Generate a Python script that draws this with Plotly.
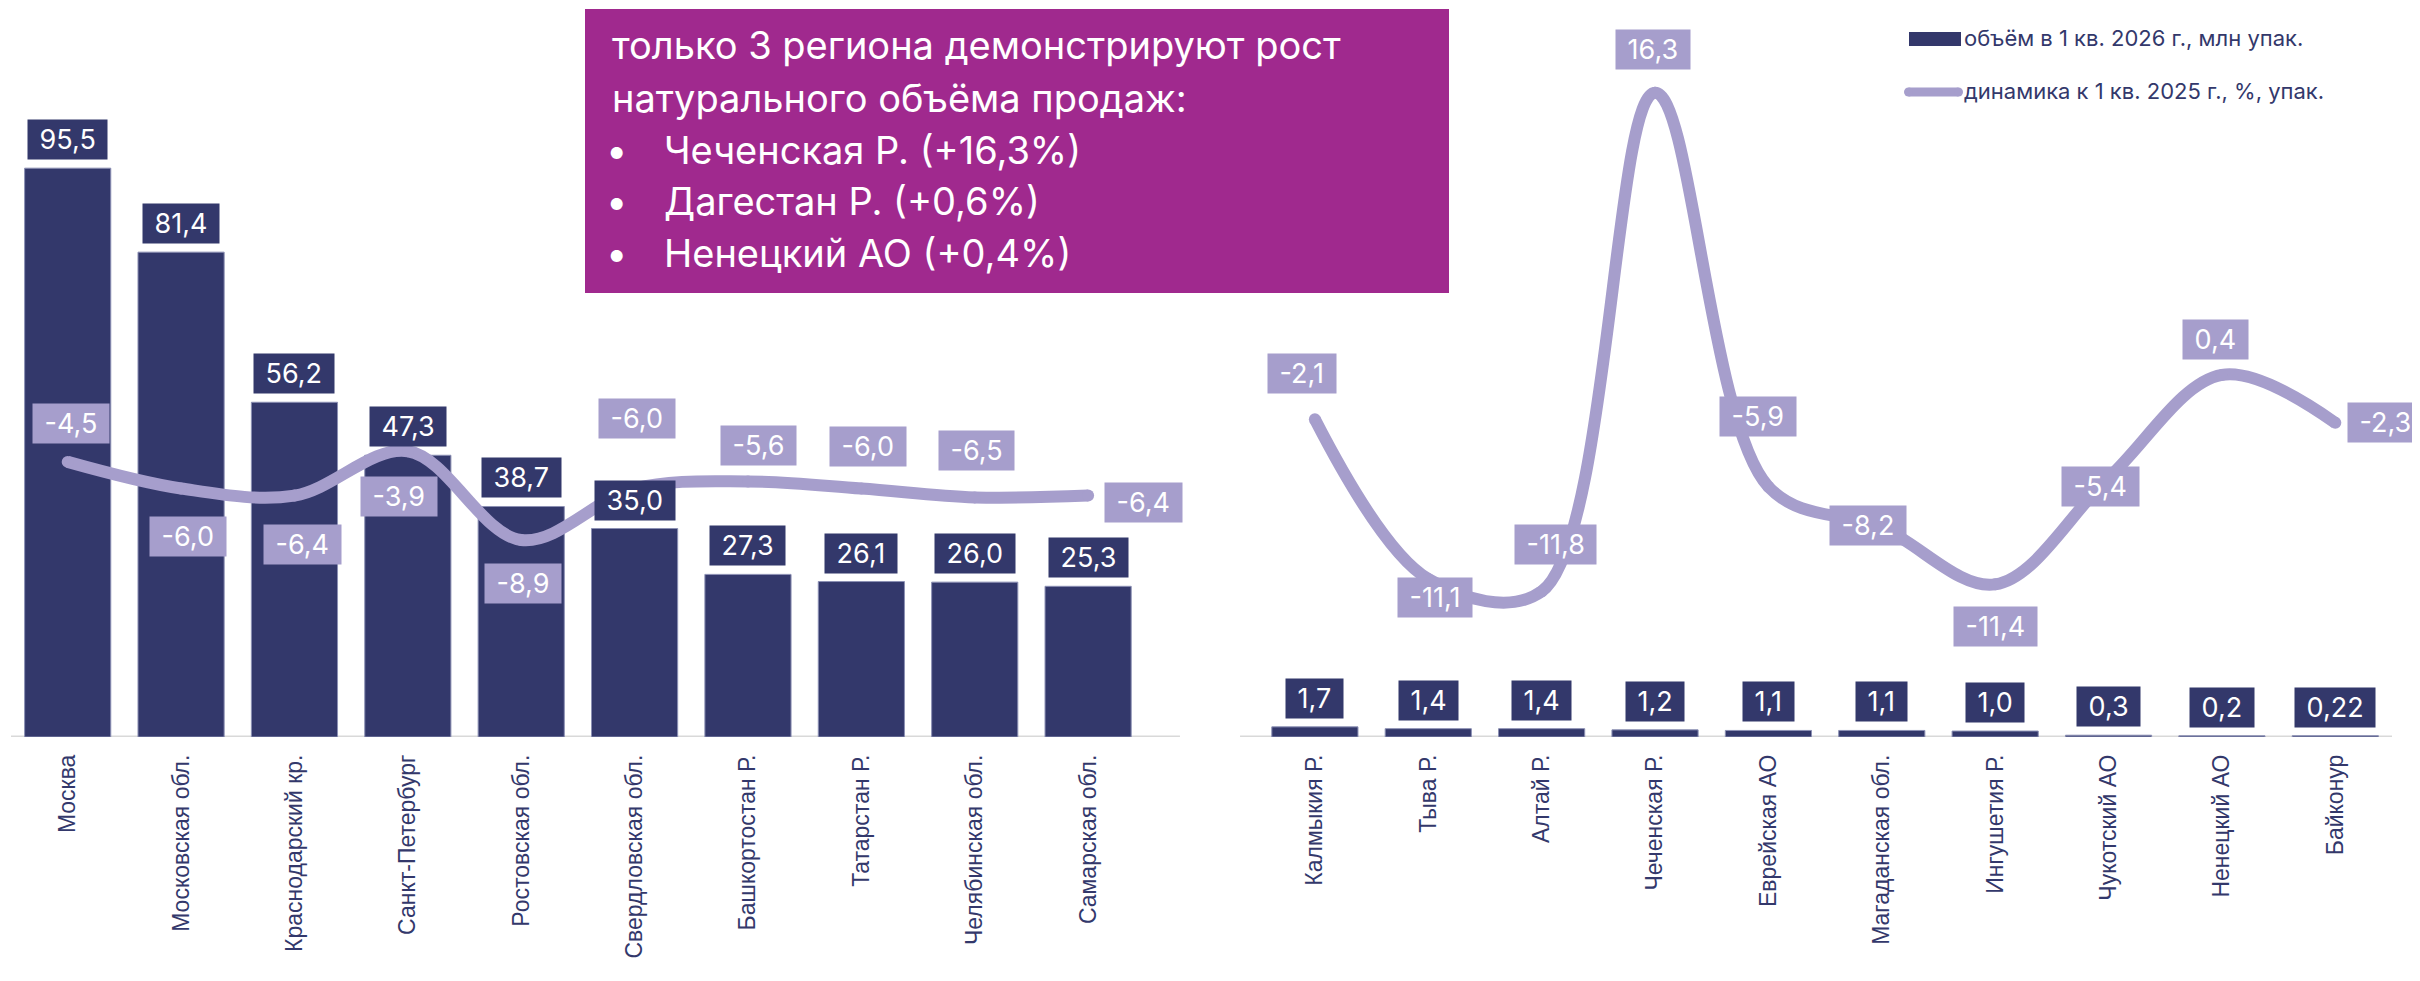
import plotly.graph_objects as go

# ---------------- data ----------------
regions_left = ["Москва", "Московская обл.", "Краснодарский кр.", "Санкт-Петербург",
                "Ростовская обл.", "Свердловская обл.", "Башкортостан Р.", "Татарстан Р.",
                "Челябинская обл.", "Самарская обл."]
regions_right = ["Калмыкия Р.", "Тыва Р.", "Алтай Р.", "Чеченская Р.", "Еврейская АО",
                 "Магаданская обл.", "Ингушетия Р.", "Чукотский АО", "Ненецкий АО", "Байконур"]
volume_left = [95.5, 81.4, 56.2, 47.3, 38.7, 35.0, 27.3, 26.1, 26.0, 25.3]
volume_right = [1.7, 1.4, 1.4, 1.2, 1.1, 1.1, 1.0, 0.3, 0.2, 0.22]
dynamics_left = [-4.5, -6.0, -6.4, -3.9, -8.9, -6.0, -5.6, -6.0, -6.5, -6.4]
dynamics_right = [-2.1, -11.1, -11.8, 16.3, -5.9, -8.2, -11.4, -5.4, 0.4, -2.3]

legend_bar = "объём в 1 кв. 2026 г., млн упак."
legend_line = "динамика к 1 кв. 2025 г., %, упак."
note_lines = ["только 3 региона демонстрируют рост", "натурального объёма продаж:"]
note_bullets = ["Чеченская Р. (+16,3%)", "Дагестан Р. (+0,6%)", "Ненецкий АО (+0,4%)"]

# ---------------- styles ----------------
NAVY = "#33386B"
LAV = "#A69ECC"
MAGENTA = "#A0298E"
AXIS_GREY = "#D9D9D9"
LABEL_FONT = "Inter"
TICK_FONT = "Liberation Sans"

# label offsets for the line labels (dx, dy in px; dy>0 means downward)
off_left = [(3, -38), (7, 48), (8, 49), (-9, 45), (2, 44), (2, -70), (11, -36), (7, -42), (2, -47), (55, 7)]
off_right = [(-13, -46), (7, 18), (14, -47), (-2, -43), (-10, -70), (-14, -2), (0, 42), (-8, 9), (-6, -35), (50, 0)]

SPACER = " "
categories = regions_left + [SPACER] + regions_right
volumes = volume_left + [None] + volume_right
dynamics = dynamics_left + [None] + dynamics_right
offsets = off_left + [None] + off_right


def fmt(v):
    s = f"{v:.1f}" if round(v, 1) == v else f"{v:.2f}"
    return s.replace(".", ",")


# page body has an 8px margin: work in window pixels, convert to figure
BODY = 8
WIN_W, WIN_H = 2420, 981
FW, FH = WIN_W - BODY, WIN_H - BODY
# plot area in window pixels
X0, X1, Y0, Y1 = 11, 2392, 27, 737
L, T = X0 - BODY, Y0 - BODY
R = FW - (X1 - BODY)
B = FH - (Y1 - BODY)


def px(x):
    return (x - X0) / (X1 - X0)


def py(y):
    return (Y1 - y) / (Y1 - Y0)


fig = go.Figure()
fig.add_trace(go.Bar(
    x=categories, y=volumes, marker=dict(color=NAVY, line=dict(width=1, color="#8C90B4")),
    name=legend_bar, yaxis="y", hoverinfo="skip"))
fig.add_trace(go.Scatter(
    x=categories, y=dynamics, yaxis="y2", mode="lines+markers", name=legend_line,
    line=dict(color=LAV, width=12, shape="spline", smoothing=1.0),
    marker=dict(color=LAV, size=12), connectgaps=False, hoverinfo="skip"))

NB = "\u00a0"
annotations = []
# bar value labels
for c, v in zip(categories, volumes):
    if v is None:
        continue
    annotations.append(dict(
        x=c, y=v, xref="x", yref="y", text=NB + fmt(v) + NB,
        showarrow=False, xanchor="center", yanchor="bottom", yshift=8,
        bgcolor=NAVY, borderpad=4, height=31,
        font=dict(family=LABEL_FONT, size=27, color="white")))
# line value labels
for c, v, o in zip(categories, dynamics, offsets):
    if v is None:
        continue
    annotations.append(dict(
        x=c, y=v, xref="x", yref="y2", text=NB + fmt(v) + NB,
        showarrow=False, xanchor="center", yanchor="middle", xshift=o[0], yshift=-o[1],
        bgcolor=LAV, borderpad=4, height=31,
        font=dict(family=LABEL_FONT, size=27, color="white")))

# note box text
note_y = [45, 98, 150, 201, 253]
for i, t in enumerate(note_lines):
    annotations.append(dict(
        x=px(610), y=py(note_y[i]), xref="paper", yref="paper", text=t, showarrow=False,
        xanchor="left", yanchor="middle", font=dict(family=LABEL_FONT, size=38, color="white")))
for j, t in enumerate(note_bullets):
    yy = py(note_y[2 + j])
    annotations.append(dict(
        x=px(604), y=yy, xref="paper", yref="paper", text="•", showarrow=False,
        xanchor="left", yanchor="middle", font=dict(family=LABEL_FONT, size=38, color="white")))
    annotations.append(dict(
        x=px(662), y=yy, xref="paper", yref="paper", text=t, showarrow=False,
        xanchor="left", yanchor="middle", font=dict(family=LABEL_FONT, size=38, color="white")))

# legend text
for t, yy in [(legend_bar, 38), (legend_line, 91)]:
    annotations.append(dict(
        x=px(1962), y=py(yy), xref="paper", yref="paper", text=t, showarrow=False,
        xanchor="left", yanchor="middle", font=dict(family=LABEL_FONT, size=22, color=NAVY)))

shapes = [
    # note box
    dict(type="rect", xref="paper", yref="paper", x0=px(585), x1=px(1449), y0=py(293), y1=py(9),
         fillcolor=MAGENTA, line=dict(width=0), layer="below"),
    # axis lines
    dict(type="line", xref="x", yref="y", x0=-0.5, x1=9.81, y0=0, y1=0,
         line=dict(color=AXIS_GREY, width=3), layer="below"),
    dict(type="line", xref="x", yref="y", x0=10.34, x1=20.5, y0=0, y1=0,
         line=dict(color=AXIS_GREY, width=3), layer="below"),
    # legend swatches
    dict(type="rect", xref="paper", yref="paper", x0=px(1909), x1=px(1961), y0=py(46), y1=py(32),
         fillcolor=NAVY, line=dict(width=0)),
    dict(type="line", xref="paper", yref="paper", x0=px(1908.5), x1=px(1958.5), y0=py(92), y1=py(92),
         line=dict(color=LAV, width=9)),
    dict(type="circle", xref="paper", yref="paper", x0=px(1904), x1=px(1913), y0=py(96.5), y1=py(87.5),
         fillcolor=LAV, line=dict(width=0)),
    dict(type="circle", xref="paper", yref="paper", x0=px(1954), x1=px(1963), y0=py(96.5), y1=py(87.5),
         fillcolor=LAV, line=dict(width=0)),
]

fig.update_layout(
    width=FW, height=FH,
    margin=dict(l=L, r=R, t=T, b=B, autoexpand=False),
    paper_bgcolor="white", plot_bgcolor="white",
    showlegend=False, bargap=0.24,
    xaxis=dict(type="category", categoryorder="array", categoryarray=categories,
               range=[-0.5, 20.5], tickangle=-90, showgrid=False, showline=False,
               zeroline=False, ticks="", ticklabelstandoff=12,
               tickfont=dict(family=TICK_FONT, size=23, color=NAVY)),
    yaxis=dict(range=[0, 119.2], visible=False, fixedrange=True),
    yaxis2=dict(range=[-20, 20], overlaying="y", visible=False, fixedrange=True),
    annotations=annotations, shapes=shapes,
)

fig.write_html("out.html")
